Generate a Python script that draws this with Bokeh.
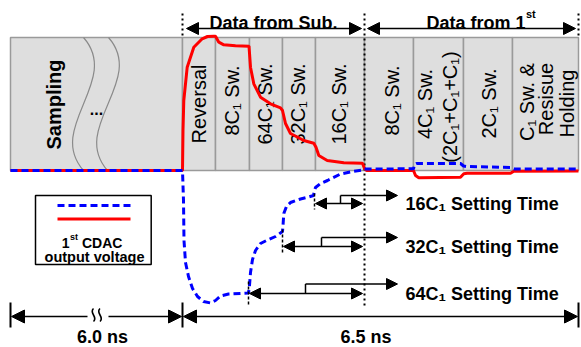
import numpy as np
from bokeh.plotting import figure
from bokeh.models import Range1d, Arrow, NormalHead
from bokeh.core.properties import value
from bokeh.embed import file_html
from bokeh.resources import INLINE

W, H = 581, 347
FONT = value("Liberation Sans")

# ---- phase boxes -------------------------------------------------------
seg_edges = [10, 182, 215, 249, 282, 315, 364, 413, 463, 512, 578]
box_top, box_bottom = 37, 170

col_labels = ["Sampling", "Reversal", "8C\u2081 Sw.", "64C\u2081 Sw.", "32C\u2081 Sw.",
              "16C\u2081 Sw.", "8C\u2081 Sw.", "4C\u2081 Sw.", "(2C\u2081+C\u2081+C\u2081)",
              "2C\u2081 Sw.", "C\u2081 Sw. &", "Resisue", "Holding"]
col_label_x = [53, 198, 231, 264.5, 297, 338, 391, 424, 449.5, 488, 526, 545.5, 566]
col_label_y = [104, 103.5, 100, 103.5, 103.5, 103.5, 100, 103.5, 106.5, 103, 101.5, 98.5, 103]
col_label_bold = [True] + [False] * 12

# wavy break lines inside the sampling box (cubic bezier)
wave_x0 = [83, 108]
wave_x1 = [83, 107]
wave_cx0 = [121, 146]
wave_cx1 = [45, 69]
wave_cy0 = [80, 80]
wave_cy1 = [127, 127]

# ---- waveforms (pixel space) -------------------------------------------
red_x = [10, 182, 182.5, 183.3, 186.7, 193.3, 201.7, 207, 213.3, 215, 218.3, 223.3, 235,
         248.5, 250, 253.3, 260, 270, 280, 282, 285, 290, 303.3, 313.3, 315.5, 318.3, 326.7,
         343.3, 362, 364, 366, 413, 415, 418.3, 440, 460, 463.3, 466.7, 510, 513.3, 578]
red_y = [170, 170, 130, 100, 66.7, 46.7, 38.3, 36, 35.7, 35.7, 41.7, 44.3, 45.3,
         45.7, 66.7, 83.3, 96.7, 103.3, 107.3, 110, 123, 133, 140, 142.7, 146.7, 155, 160,
         162.3, 162.7, 168, 170, 170, 175, 177.3, 177, 176.7, 173.3, 172.7, 172.7, 170.7, 170.5]

blue_x = [10, 182, 183, 183.5, 185, 188, 192, 197, 203, 210, 215, 220, 228, 248,
          249, 250, 252, 255, 260, 267, 275, 282, 282.5, 283.3, 286, 290, 300, 308, 313,
          314, 315, 320, 327, 340, 352, 363, 364, 413, 414, 416, 460, 463, 466, 510, 514, 578]
blue_y = [170, 170, 200, 240, 262, 276, 288, 296, 301, 302.5, 300, 295.5, 293.5, 292.5,
          285, 272, 259, 250, 243, 239.5, 236, 231, 225, 213, 206, 202, 198.5, 196.5, 195,
          190, 187, 183, 180, 173.5, 171, 169.5, 168.5, 168.3, 164, 163, 163, 165.5, 166, 167, 168.5, 168.5]

# ---- setting-time annotations ------------------------------------------
st_labels = ["16C\u2081 Setting Time", "32C\u2081 Setting Time", "64C\u2081 Setting Time"]
st_start = [314, 282, 248]
st_end = [362, 362, 362]
st_y = [203, 246, 293]
st_step_x = [340, 321, 305]
st_step_y = [195, 237, 283.5]
st_tip_x = [397, 397, 397]
st_text_x = [405, 405, 405]
st_tick_y0 = [193, 229, 281]
st_tick_y1 = [209, 253, 306]

# ---- time scale --------------------------------------------------------
scale_y = 316
scale_marks = [10, 182, 578]
scale_labels = ["6.0 ns", "6.5 ns"]
scale_label_x = [102, 365.5]
scale_gap = [87, 108]

p = figure(width=W, height=H, output_backend="svg", toolbar_location=None,
           x_range=Range1d(0, W), y_range=Range1d(H, 0), min_border=0)
p.axis.visible = False
p.grid.visible = False
p.outline_line_color = None
p.background_fill_color = "white"
p.border_fill_color = "white"

# boxes
p.quad(left=seg_edges[:-1], right=seg_edges[1:], top=[box_top] * (len(seg_edges) - 1),
       bottom=[box_bottom] * (len(seg_edges) - 1), fill_color="#dedede",
       line_color="#9a9a9a", line_width=1.5)
p.bezier(x0=wave_x0, y0=[box_top] * 2, x1=wave_x1, y1=[box_bottom] * 2,
         cx0=wave_cx0, cy0=wave_cy0, cx1=wave_cx1, cy1=wave_cy1,
         line_color="#8a8a8a", line_width=1.2)
p.text(x=[96], y=[108], text=["..."], text_font=FONT, text_font_size="16px",
       text_font_style="bold", text_align="center", text_baseline="alphabetic", text_color="black")

for lab, x, y, b in zip(col_labels, col_label_x, col_label_y, col_label_bold):
    p.text(x=[x], y=[y], text=[lab], angle=np.pi / 2, text_font=FONT, text_font_size="20px",
           text_font_style="bold" if b else "normal", text_align="center",
           text_baseline="middle", text_color="black")

# dotted phase dividers
p.segment(x0=[182, 364, 578], y0=[13, 13, 13], x1=[182, 364, 578], y1=[37, 305, 37],
          line_color="black", line_width=2, line_dash="2 3")

# header arrows
hd = dict(fill_color="black", line_color="black", size=12)
p.add_layout(Arrow(x_start=186, y_start=28, x_end=361, y_end=28, line_width=1.5,
                   start=NormalHead(**hd), end=NormalHead(**hd)))
p.add_layout(Arrow(x_start=367, y_start=28, x_end=575, y_end=28, line_width=1.5,
                   start=NormalHead(**hd), end=NormalHead(**hd)))
p.text(x=[273], y=[22], text=["Data from Sub."], text_font=FONT, text_font_size="18px",
       text_font_style="bold", text_align="center", text_baseline="alphabetic")
p.text(x=[525], y=[22], text=["Data from 1"], text_font=FONT, text_font_size="18px",
       text_font_style="bold", text_align="right", text_baseline="alphabetic")
p.text(x=[525.5], y=[13.5], text=["st"], text_font=FONT, text_font_size="11px",
       text_font_style="bold", text_align="left", text_baseline="alphabetic")

# waveforms
p.line(red_x, red_y, line_color="#ff0000", line_width=3)
p.line(blue_x, blue_y, line_color="#0000ff", line_width=3, line_dash="7 4")

# setting-time annotations
sh = dict(fill_color="black", line_color="black", size=11)
for i in range(3):
    p.add_layout(Arrow(x_start=st_start[i] + 1, y_start=st_y[i], x_end=st_end[i], y_end=st_y[i],
                       line_width=1.5, start=NormalHead(**sh), end=NormalHead(**sh)))
    p.add_layout(Arrow(x_start=st_step_x[i], y_start=st_step_y[i], x_end=st_tip_x[i],
                       y_end=st_step_y[i], line_width=1.5, end=NormalHead(**sh)))
p.segment(x0=st_step_x, y0=st_y, x1=st_step_x, y1=st_step_y, line_color="black", line_width=1.5)
p.segment(x0=st_start, y0=st_tick_y0, x1=st_start, y1=st_tick_y1, line_color="black",
          line_width=1.5, line_dash="3 2")
p.text(x=st_text_x, y=[y + 0.3 for y in st_y], text=st_labels, text_font=FONT,
       text_font_size="18px", text_font_style="bold", text_align="left",
       text_baseline="alphabetic")

# legend
p.quad(left=[35], right=[150.7], top=[195], bottom=[264], fill_color="white",
       line_color="black", line_width=1.5)
p.line([57, 130], [205, 205], line_color="#0000ff", line_width=3, line_dash="7 4")
p.line([57, 130], [218.5, 218.5], line_color="#ff0000", line_width=3)
p.text(x=[69], y=[242.7], text=["1"], text_font=FONT, text_font_size="14px",
       text_font_style="bold", text_align="right", text_baseline="alphabetic")
p.text(x=[69.5], y=[236], text=["st"], text_font=FONT, text_font_size="9px",
       text_font_style="bold", text_align="left", text_baseline="alphabetic")
p.text(x=[81.5], y=[242.7], text=["CDAC"], text_font=FONT, text_font_size="14px",
       text_font_style="bold", text_align="left", text_baseline="alphabetic")
p.text(x=[94], y=[256], text=["output voltage"], text_font=FONT, text_font_size="14.5px",
       text_font_style="bold", text_align="center", text_baseline="alphabetic")

# time scale
p.segment(x0=scale_marks, y0=[302] * 3, x1=scale_marks, y1=[327] * 3, line_color="black",
          line_width=2)
bh = dict(fill_color="black", line_color="black", size=13)
p.add_layout(Arrow(x_start=scale_gap[0], y_start=scale_y, x_end=scale_marks[0] + 1,
                   y_end=scale_y, line_width=1.5, end=NormalHead(**bh)))
p.add_layout(Arrow(x_start=scale_gap[1], y_start=scale_y, x_end=scale_marks[1] - 1,
                   y_end=scale_y, line_width=1.5, end=NormalHead(**bh)))
p.add_layout(Arrow(x_start=scale_marks[1] + 1, y_start=scale_y, x_end=scale_marks[2] - 1,
                   y_end=scale_y, line_width=1.5, start=NormalHead(**bh), end=NormalHead(**bh)))
p.bezier(x0=[93, 99.5], y0=[308, 308], x1=[93, 99.5], y1=[321, 321], cx0=[88, 94.5], cy0=[312.5, 312.5],
         cx1=[98, 104.5], cy1=[316.5, 316.5], line_color="black", line_width=1.6)
p.text(x=scale_label_x, y=[336.7, 336.7], text=scale_labels, text_font=FONT,
       text_font_size="18px", text_font_style="bold", text_align="center",
       text_baseline="alphabetic")

open("out.html", "w").write(file_html(p, INLINE))
